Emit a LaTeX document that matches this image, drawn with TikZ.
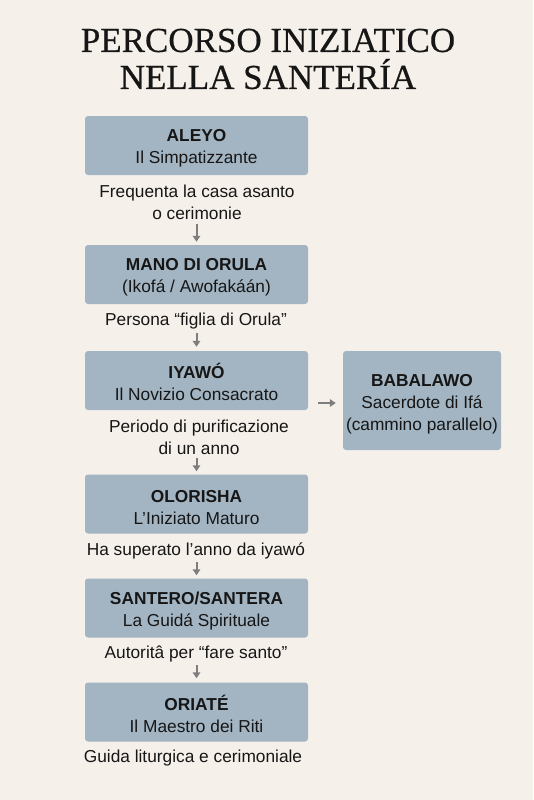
\documentclass[tikz,border=0pt]{standalone}
\usepackage{fontspec}
\setmainfont{Liberation Sans}
\newfontfamily\titlefont[FakeBold=0.5]{Liberation Serif}
\usetikzlibrary{arrows.meta,calc}
\definecolor{bgc}{HTML}{F6F0EA}
\definecolor{boxc}{HTML}{A3B5C3}
\definecolor{arrc}{HTML}{7E7E7E}
\definecolor{txtc}{HTML}{161616}
\newcommand{\topstrut}{\rule{0pt}{18.5pt}}
\begin{document}
\begin{tikzpicture}[x=1pt,y=-1pt,
  stagebox/.style={draw=none,fill=boxc,rounded corners=3pt,minimum width=223pt,minimum height=59pt,align=center,font=\fontsize{17.3}{22}\selectfont,text=txtc,inner sep=0pt},
  sidebox/.style={stagebox,minimum width=158pt,minimum height=99pt},
  note/.style={align=center,font=\fontsize{17.3}{22}\selectfont,text=txtc,inner sep=0pt},
  flow/.style={draw=arrc,line width=2pt,-{Triangle[length=6pt,width=7.5pt]}}]
\useasboundingbox[fill=bgc] (0,0) rectangle (533,800);
\node[font=\titlefont\fontsize{35}{37}\selectfont,text=txtc,align=center] (title) at (268,59) {PERCORSO INIZIATICO\\NELLA SANTERÍA};
\node[stagebox] (aleyo) at (196.5,145.5) {\topstrut\textbf{ALEYO}\\Il Simpatizzante};
\node[note] (n1) at (197,202) {Frequenta la casa asanto\\o cerimonie};
\node[stagebox] (mano) at (196.5,274.5) {\topstrut\textbf{MANO DI ORULA}\\(Ikofá / Awofakáán)};
\node[note] (n2) at (196,321) {Persona “figlia di Orula”};
\node[stagebox] (iyawo) at (196.5,380.5) {\topstrut\textbf{IYAWÓ}\\Il Novizio Consacrato};
\node[note] (n3) at (199,437) {Periodo di purificazione\\di un anno};
\node[stagebox] (olo) at (196.5,504) {\topstrut\textbf{OLORISHA}\\L’Iniziato Maturo};
\node[note] (n4) at (196,551) {Ha superato l’anno da iyawó};
\node[stagebox] (sant) at (196.5,608) {\topstrut\textbf{SANTERO/SANTERA}\\La Guidá Spirituale};
\node[note] (n5) at (196,654) {Autoritâ per “fare santo”};
\node[stagebox] (oria) at (196.5,712) {\topstrut\textbf{ORIATÉ}\\Il Maestro dei Riti};
\node[note] (n6) at (193,758) {Guida liturgica e cerimoniale};
\node[sidebox] (baba) at (422,400.5) {\rule{0pt}{20pt}\textbf{BABALAWO}\\Sacerdote di Ifá\\(cammino parallelo)};
\coordinate (s1) at ($(mano.north |- n1.south)+(0,4)$);
\coordinate (e1) at ($(mano.north)+(0,-3)$);
\coordinate (s2) at ($(iyawo.north |- n2.south)+(0,4)$);
\coordinate (e2) at ($(iyawo.north)+(0,-4)$);
\coordinate (s3) at ($(olo.north |- n3.south)+(0,3)$);
\coordinate (e3) at ($(olo.north)+(0,-3)$);
\coordinate (s4) at ($(sant.north |- n4.south)+(0,3)$);
\coordinate (e4) at ($(sant.north)+(0,-3)$);
\coordinate (s5) at ($(oria.north |- n5.south)+(0,3)$);
\coordinate (e5) at ($(oria.north)+(0,-4)$);
\coordinate (hs) at (318,403);
\coordinate (he) at ($(hs -| baba.west)+(-7,0)$);
\draw[flow] (s1) -- (e1);
\draw[flow] (s2) -- (e2);
\draw[flow] (s3) -- (e3);
\draw[flow] (s4) -- (e4);
\draw[flow] (s5) -- (e5);
\draw[flow] (hs) -- (he);
\end{tikzpicture}
\end{document}
